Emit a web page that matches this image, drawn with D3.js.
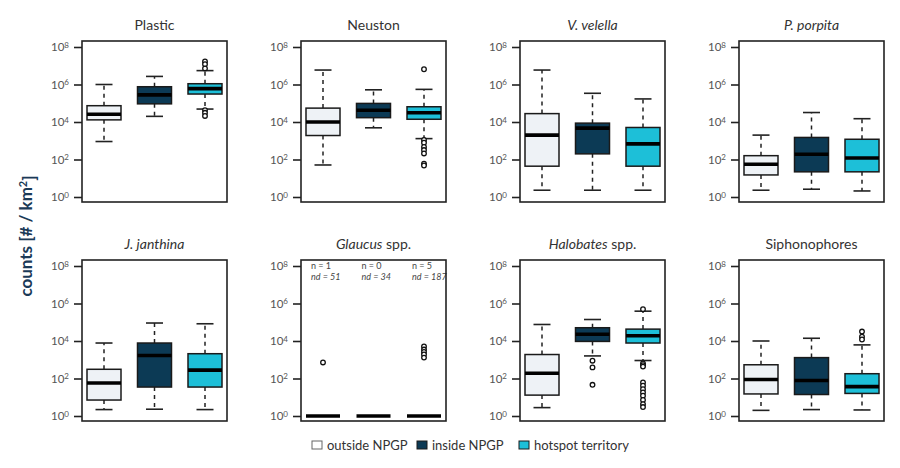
<!DOCTYPE html>
<html>
<head>
<meta charset="utf-8">
<script src="https://cdn.jsdelivr.net/npm/d3@7"></script>
<style>
  html, body { margin: 0; padding: 0; background: #fff; }
  svg { display: block; font-family: Lato, "Open Sans", sans-serif; }
</style>
</head>
<body>
<svg id="chart" width="900" height="468"></svg>
<script>
// ---------- DATA ----------
const panels = ["Plastic", "Neuston", "V. velella", "P. porpita", "J. janthina", "Glaucus spp.", "Halobates spp.", "Siphonophores"];
const italicPart = ["", "", "V. velella", "P. porpita", "J. janthina", "Glaucus", "Halobates", ""];
const groups = ["outside NPGP", "inside NPGP", "hotspot territory"];
const groupColors = ["#eef2f6", "#0c3a55", "#1dbfd8"];
const tickExponents = [0, 2, 4, 6, 8];

// per panel: [outside, inside, hotspot]
const upperWhisker = [
  [1.0e6, 2.7e6, 5.5e6],
  [5.9e6, 5.2e5, 5.5e5],
  [5.9e6, 3.4e5, 1.7e5],
  [2.0e3, 3.2e4, 1.5e4],
  [7.8e3, 9.1e4, 8.3e4],
  [1, 1, 1],
  [7.6e4, 1.4e5, 3.9e5],
  [1.0e4, 1.4e4, 6.2e3]
];
const q3 = [
  [7.4e4, 7.6e5, 1.1e6],
  [5.5e4, 9.8e4, 6.5e4],
  [2.8e4, 8.7e3, 5.1e3],
  [160, 1.5e3, 1.2e3],
  [310, 7.8e3, 2.1e3],
  [1, 1, 1],
  [1.9e3, 5.1e4, 4.3e4],
  [540, 1.3e3, 180]
];
const medians = [
  [2.6e4, 2.8e5, 6.0e5],
  [1.0e4, 4.2e4, 3.1e4],
  [2.0e3, 4.7e3, 680],
  [56, 190, 120],
  [58, 1.7e3, 280],
  [1, 1, 1],
  [190, 2.3e4, 1.9e4],
  [89, 78, 37]
];
const q1 = [
  [1.3e4, 9.3e4, 3.1e5],
  [1.9e3, 1.7e4, 1.4e4],
  [44, 200, 44],
  [15, 22, 22],
  [7.1, 35, 35],
  [1, 1, 1],
  [13, 9.5e3, 7.8e3],
  [15, 14, 16]
];
const lowerWhisker = [
  [910, 2.0e4, 4.9e4],
  [51, 4.9e3, 1.3e3],
  [2.3, 2.3, 2.3],
  [2.3, 2.6, 2.1],
  [2.2, 2.3, 2.2],
  [1, 1, 1],
  [2.8, 1.6e3, 910],
  [2.0, 2.2, 2.1]
];
const outliers = [
  [[], [], [1.7e7, 1.2e7, 7.2e6, 4.3e4, 3.1e4, 2.1e4]],
  [[], [], [6.5e6, 1.1e3, 780, 470, 320, 210, 60, 48]],
  [[], [], []],
  [[], [], []],
  [[], [], []],
  [[720], [], [5.1e3, 3.5e3, 2.6e3, 1.9e3, 1.3e3]],
  [[], [890, 390, 46], [5.0e5, 630, 510, 430, 62, 41, 27, 18, 12, 7.2, 4.3, 3.0]],
  [[], [], [3.2e4, 1.7e4, 1.2e4]]
];
const glaucusN = [1, 0, 5];
const glaucusND = [51, 34, 187];
const glaucusIndex = 5;

// ---------- LAYOUT ----------
const svg = d3.select("#chart");
svg.append("rect").attr("width", 900).attr("height", 468).attr("fill", "#fff");

const panelW = 145, panelH = 161;
const colX = c => 82 + c * 219;
const rowY = r => 41 + r * 219;

const y = d3.scaleLog().domain([1, 1e8]).range([156, 6]);
const x = d3.scalePoint().domain([0, 1, 2]).range([22, 123]);
const boxW = 34, capW = 17;

panels.forEach((name, i) => {
  const col = i % 4, row = Math.floor(i / 4);
  const g = svg.append("g").attr("transform", `translate(${colX(col)},${rowY(row)})`);

  // title
  const title = g.append("text")
    .attr("x", panelW / 2).attr("y", -11)
    .attr("text-anchor", "middle")
    .attr("font-size", 14).attr("fill", "#333");
  if (italicPart[i]) {
    title.append("tspan").attr("font-style", "italic").text(italicPart[i]);
    const rest = name.slice(italicPart[i].length);
    if (rest) title.append("tspan").text(rest);
  } else {
    title.text(name);
  }

  // axis
  const ax = g.append("g").call(
    d3.axisLeft(y).tickValues(tickExponents.map(e => Math.pow(10, e)))
      .tickSize(8).tickPadding(5).tickFormat("")
  );
  ax.select(".domain").remove();
  ax.selectAll(".tick line").attr("stroke", "#222").attr("stroke-width", 1.6);
  ax.selectAll(".tick text").each(function (d) {
    const t = d3.select(this);
    t.attr("fill", "#555").attr("font-size", 11.5).attr("font-family", "Lato, sans-serif");
    t.append("tspan").text("10");
    t.append("tspan").attr("dy", "-0.45em").attr("font-size", 8)
      .text(Math.round(Math.log10(d)));
  });

  // boxes
  groups.forEach((grp, k) => {
    const cx = x(k);
    const wl = g.append("g");
    // whiskers
    wl.append("line").attr("x1", cx).attr("x2", cx)
      .attr("y1", y(q3[i][k])).attr("y2", y(upperWhisker[i][k]))
      .attr("stroke", "#222").attr("stroke-width", 1.5).attr("stroke-dasharray", "4,4");
    wl.append("line").attr("x1", cx).attr("x2", cx)
      .attr("y1", y(q1[i][k])).attr("y2", y(lowerWhisker[i][k]))
      .attr("stroke", "#222").attr("stroke-width", 1.5).attr("stroke-dasharray", "4,4");
    // caps
    [upperWhisker[i][k], lowerWhisker[i][k]].forEach(v => {
      wl.append("line").attr("x1", cx - capW / 2).attr("x2", cx + capW / 2)
        .attr("y1", y(v)).attr("y2", y(v))
        .attr("stroke", "#222").attr("stroke-width", 1.6);
    });
    // box
    wl.append("rect")
      .attr("x", cx - boxW / 2).attr("width", boxW)
      .attr("y", y(q3[i][k])).attr("height", y(q1[i][k]) - y(q3[i][k]))
      .attr("fill", groupColors[k]).attr("stroke", "#1a1a1a").attr("stroke-width", 1.5);
    // median
    wl.append("line").attr("x1", cx - boxW / 2).attr("x2", cx + boxW / 2)
      .attr("y1", y(medians[i][k])).attr("y2", y(medians[i][k]))
      .attr("stroke", "#000").attr("stroke-width", 3.6);
    // outliers
    wl.selectAll("circle.o").data(outliers[i][k]).enter().append("circle")
      .attr("class", "o")
      .attr("cx", cx).attr("cy", d => y(d)).attr("r", 2.3)
      .attr("fill", "#fff").attr("stroke", "#111").attr("stroke-width", 1.3);

    if (i === glaucusIndex) {
      g.append("text").attr("x", cx - 12).attr("y", 9)
        .attr("font-size", 9).attr("fill", "#444").text(`n = ${glaucusN[k]}`);
      g.append("text").attr("x", cx - 12).attr("y", 20)
        .attr("font-size", 9).attr("fill", "#444").attr("font-style", "italic")
        .text(`nd = ${glaucusND[k]}`);
    }
  });

  // frame
  g.append("rect").attr("width", panelW).attr("height", panelH)
    .attr("fill", "none").attr("stroke", "#222").attr("stroke-width", 1.6);
});

// y label
const yl = svg.append("text")
  .attr("transform", "translate(32,236) rotate(-90)")
  .attr("text-anchor", "middle")
  .attr("font-size", 17).attr("font-weight", "bold").attr("fill", "#1b3a57");
yl.append("tspan").text("counts [# / km");
yl.append("tspan").attr("dy", "-0.5em").attr("font-size", 11).text("2");
yl.append("tspan").attr("dy", "0.5em").text("]");

// legend
const legend = svg.append("g").attr("transform", "translate(0,446)");
const legX = [312, 417, 519];
groups.forEach((grp, k) => {
  legend.append("rect").attr("x", legX[k]).attr("y", -5).attr("width", 10).attr("height", 8)
    .attr("fill", k === 0 ? "#fff" : groupColors[k]).attr("stroke", k === 0 ? "#666" : "#1a1a1a")
    .attr("stroke-width", 1);
  legend.append("text").attr("x", legX[k] + 15).attr("y", 4)
    .attr("font-size", 13).attr("fill", "#333").text(grp);
});
</script>
</body>
</html>
